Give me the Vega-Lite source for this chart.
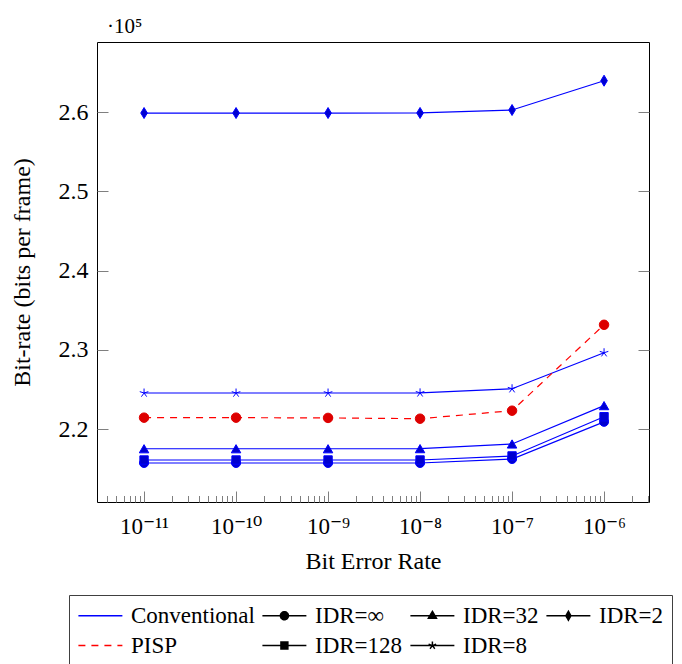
{
  "$schema": "https://vega.github.io/schema/vega-lite/v6.json",
  "width": 552,
  "height": 460,
  "autosize": {"type": "none"},
  "padding": {"left": 97, "top": 42, "right": 33, "bottom": 162},
  "background": "white",
  "config": {
    "view": {"stroke": "black", "strokeWidth": 1},
    "font": "Liberation Serif"
  },
  "title": {
    "text": "·10⁵",
    "anchor": "start",
    "frame": "group",
    "dx": 10,
    "dy": 25,
    "offset": 13,
    "baseline": "alphabetic",
    "fontSize": 21,
    "fontWeight": "normal",
    "font": "Liberation Serif",
    "color": "black"
  },
  "data": {
    "values": [
      {"ber": 1e-11, "rate": 215710, "series": "Conventional", "idr": "inf"},
      {"ber": 1e-10, "rate": 215710, "series": "Conventional", "idr": "inf"},
      {"ber": 1e-9, "rate": 215710, "series": "Conventional", "idr": "inf"},
      {"ber": 1e-8, "rate": 215710, "series": "Conventional", "idr": "inf"},
      {"ber": 1e-7, "rate": 216210, "series": "Conventional", "idr": "inf"},
      {"ber": 1e-6, "rate": 220900, "series": "Conventional", "idr": "inf"},
      {"ber": 1e-11, "rate": 216090, "series": "Conventional", "idr": "128"},
      {"ber": 1e-10, "rate": 216090, "series": "Conventional", "idr": "128"},
      {"ber": 1e-9, "rate": 216090, "series": "Conventional", "idr": "128"},
      {"ber": 1e-8, "rate": 216090, "series": "Conventional", "idr": "128"},
      {"ber": 1e-7, "rate": 216600, "series": "Conventional", "idr": "128"},
      {"ber": 1e-6, "rate": 221550, "series": "Conventional", "idr": "128"},
      {"ber": 1e-11, "rate": 217510, "series": "Conventional", "idr": "32"},
      {"ber": 1e-10, "rate": 217510, "series": "Conventional", "idr": "32"},
      {"ber": 1e-9, "rate": 217510, "series": "Conventional", "idr": "32"},
      {"ber": 1e-8, "rate": 217520, "series": "Conventional", "idr": "32"},
      {"ber": 1e-7, "rate": 218110, "series": "Conventional", "idr": "32"},
      {"ber": 1e-6, "rate": 222950, "series": "Conventional", "idr": "32"},
      {"ber": 1e-11, "rate": 224540, "series": "Conventional", "idr": "8"},
      {"ber": 1e-10, "rate": 224540, "series": "Conventional", "idr": "8"},
      {"ber": 1e-9, "rate": 224540, "series": "Conventional", "idr": "8"},
      {"ber": 1e-8, "rate": 224560, "series": "Conventional", "idr": "8"},
      {"ber": 1e-7, "rate": 225080, "series": "Conventional", "idr": "8"},
      {"ber": 1e-6, "rate": 229620, "series": "Conventional", "idr": "8"},
      {"ber": 1e-11, "rate": 259870, "series": "Conventional", "idr": "2"},
      {"ber": 1e-10, "rate": 259870, "series": "Conventional", "idr": "2"},
      {"ber": 1e-9, "rate": 259870, "series": "Conventional", "idr": "2"},
      {"ber": 1e-8, "rate": 259880, "series": "Conventional", "idr": "2"},
      {"ber": 1e-7, "rate": 260250, "series": "Conventional", "idr": "2"},
      {"ber": 1e-6, "rate": 263950, "series": "Conventional", "idr": "2"},
      {"ber": 1e-11, "rate": 221430, "series": "PISP", "idr": "PISP"},
      {"ber": 1e-10, "rate": 221430, "series": "PISP", "idr": "PISP"},
      {"ber": 1e-9, "rate": 221400, "series": "PISP", "idr": "PISP"},
      {"ber": 1e-8, "rate": 221300, "series": "PISP", "idr": "PISP"},
      {"ber": 1e-7, "rate": 222310, "series": "PISP", "idr": "PISP"},
      {"ber": 1e-6, "rate": 233150, "series": "PISP", "idr": "PISP"}
    ]
  },
  "encoding": {
    "x": {
      "field": "ber",
      "type": "quantitative",
      "scale": {"type": "log", "domain": [3.08e-12, 3.08e-6], "nice": false},
      "axis": {
        "values": [4e-12, 5e-12, 6e-12, 7e-12, 8e-12, 9e-12,
                   1e-11, 2e-11, 3e-11, 4e-11, 5e-11, 6e-11, 7e-11, 8e-11, 9e-11,
                   1e-10, 2e-10, 3e-10, 4e-10, 5e-10, 6e-10, 7e-10, 8e-10, 9e-10,
                   1e-9, 2e-9, 3e-9, 4e-9, 5e-9, 6e-9, 7e-9, 8e-9, 9e-9,
                   1e-8, 2e-8, 3e-8, 4e-8, 5e-8, 6e-8, 7e-8, 8e-8, 9e-8,
                   1e-7, 2e-7, 3e-7, 4e-7, 5e-7, 6e-7, 7e-7, 8e-7, 9e-7,
                   1e-6, 2e-6, 3e-6],
        "labelExpr": "abs(log(datum.value)/LN10 - round(log(datum.value)/LN10)) < 0.001 ? (round(log(datum.value)/LN10) == -11 ? '10⁻¹¹' : round(log(datum.value)/LN10) == -10 ? '10⁻¹⁰' : round(log(datum.value)/LN10) == -9 ? '10⁻⁹' : round(log(datum.value)/LN10) == -8 ? '10⁻⁸' : round(log(datum.value)/LN10) == -7 ? '10⁻⁷' : '10⁻⁶') : ''",
        "tickSize": {"condition": {"test": "abs(log(datum.value)/LN10 - round(log(datum.value)/LN10)) < 0.001", "value": -11}, "value": -6.5},
        "tickColor": "#7f7f7f",
        "tickWidth": 1,
        "domain": false,
        "grid": false,
        "labelFont": "Liberation Serif, DejaVu Serif",
        "labelFontSize": 23,
        "labelColor": "black",
        "labelPadding": 24,
        "labelFlush": false,
        "labelOverlap": false,
        "title": "Bit Error Rate",
        "titleFont": "Liberation Serif",
        "titleFontSize": 24,
        "titleFontWeight": "normal",
        "titleColor": "black",
        "titlePadding": 7
      }
    },
    "y": {
      "field": "rate",
      "type": "quantitative",
      "scale": {"domain": [210789, 268833], "nice": false, "zero": false},
      "axis": null
    }
  },
  "layer": [
    {
      "transform": [{"filter": "datum.series == 'Conventional'"}],
      "mark": {"type": "line", "color": "#0000ff", "strokeWidth": 1.2},
      "encoding": {
        "detail": {"field": "idr", "type": "nominal"},
        "y": {
          "field": "rate",
          "type": "quantitative",
          "scale": {"domain": [210789, 268833], "nice": false, "zero": false},
          "axis": {
            "orient": "left",
            "values": [220000, 230000, 240000, 250000, 260000],
            "labelExpr": "format(datum.value/100000, '.1f')",
            "tickSize": -11,
            "tickColor": "#7f7f7f",
            "tickWidth": 1,
            "domain": false,
            "grid": false,
            "labelFont": "Liberation Serif",
            "labelFontSize": 24,
            "labelColor": "black",
            "labelPadding": 20,
            "title": "Bit-rate (bits per frame)",
            "titleFont": "Liberation Serif",
            "titleFontSize": 24,
            "titleFontWeight": "normal",
            "titleColor": "black",
            "titlePadding": 24
          }
        }
      }
    },
    {
      "transform": [{"filter": "datum.series == 'PISP'"}],
      "mark": {"type": "line", "color": "#ff0000", "strokeWidth": 1.2, "strokeDash": [7, 6]},
      "encoding": {}
    },
    {
      "transform": [{"filter": "datum.idr == 'inf'"}],
      "mark": {"type": "point", "shape": "circle", "filled": true, "opacity": 1, "size": 81, "fill": "#0000d0", "stroke": "#0000ff", "strokeWidth": 1},
      "encoding": {}
    },
    {
      "transform": [{"filter": "datum.idr == '128'"}],
      "mark": {"type": "point", "shape": "square", "filled": true, "opacity": 1, "size": 70, "fill": "#0000d0", "stroke": "#0000ff", "strokeWidth": 1},
      "encoding": {}
    },
    {
      "transform": [{"filter": "datum.idr == '32'"}],
      "mark": {"type": "point", "shape": "triangle-up", "filled": true, "opacity": 1, "size": 90, "fill": "#0000d0", "stroke": "#0000ff", "strokeWidth": 1},
      "encoding": {}
    },
    {
      "transform": [{"filter": "datum.idr == '8'"}],
      "mark": {"type": "point", "shape": "M0,0L0,-1M0,0L0.951,-0.309M0,0L0.588,0.809M0,0L-0.588,0.809M0,0L-0.951,-0.309", "filled": true, "opacity": 1, "size": 81, "fill": "#0000ff", "stroke": "#0000ff", "strokeWidth": 1},
      "encoding": {}
    },
    {
      "transform": [{"filter": "datum.idr == '2'"}],
      "mark": {"type": "point", "shape": "M0,-1L0.6,0L0,1L-0.6,0Z", "filled": true, "opacity": 1, "size": 121, "fill": "#0000d0", "stroke": "#0000ff", "strokeWidth": 1},
      "encoding": {}
    },
    {
      "transform": [{"filter": "datum.series == 'PISP'"}],
      "mark": {"type": "point", "shape": "circle", "filled": true, "opacity": 1, "size": 90, "fill": "#dd0000", "stroke": "#e00000", "strokeWidth": 1},
      "encoding": {
        "y": {
          "field": "rate",
          "type": "quantitative",
          "scale": {"domain": [210789, 268833], "nice": false, "zero": false},
          "axis": {
            "orient": "right",
            "values": [220000, 230000, 240000, 250000, 260000],
            "tickSize": -11,
            "tickColor": "#7f7f7f",
            "tickWidth": 1,
            "domain": false,
            "grid": false,
            "labels": false,
            "title": null
          }
        }
      }
    },
    {
      "data": {"values": []},
      "mark": {"type": "point", "filled": true, "opacity": 1},
      "encoding": {
        "shape": {
          "field": "entry",
          "type": "nominal",
          "scale": {
            "domain": ["Conventional", "IDR=∞", "IDR=32", "IDR=2", "PISP", "IDR=128", "IDR=8"],
            "range": [
              "M-0.965,0H2.86",
              "M-0.965,0H2.86M1.298,0A0.35,0.35,0,1,1,0.598,0A0.35,0.35,0,1,1,1.298,0Z",
              "M-0.965,0H2.86M0.948,-0.38L1.298,0.22L0.598,0.22Z",
              "M-0.965,0H2.86M0.948,-0.39L1.168,0L0.948,0.39L0.728,0Z",
              "M-0.965,0H2.86",
              "M-0.965,0H2.86M0.648,-0.3H1.248V0.3H0.648Z",
              "M-0.965,0H2.86M0.948,0L0.948,-0.35M0.948,0L1.281,-0.108M0.948,0L1.154,0.283M0.948,0L0.742,0.283M0.948,0L0.615,-0.108"
            ]
          },
          "legend": {
            "title": null,
            "orient": "none",
            "legendX": -28,
            "legendY": 553,
            "direction": "horizontal",
            "columns": 4,
            "symbolSize": 529,
            "symbolStrokeWidth": 1.5,
            "labelFont": "Liberation Serif",
            "labelFontSize": 23,
            "labelColor": "black",
            "labelLimit": 0,
            "labelOffset": 29,
            "columnPadding": 4,
            "rowPadding": 5,
            "padding": 8,
            "strokeColor": "#404040",
            "fillColor": "white"
          }
        },
        "stroke": {
          "field": "entry",
          "type": "nominal",
          "scale": {
            "domain": ["Conventional", "IDR=∞", "IDR=32", "IDR=2", "PISP", "IDR=128", "IDR=8"],
            "range": ["#0000ff", "black", "black", "black", "#ff0000", "black", "black"]
          }
        },
        "fill": {
          "field": "entry",
          "type": "nominal",
          "scale": {
            "domain": ["Conventional", "IDR=∞", "IDR=32", "IDR=2", "PISP", "IDR=128", "IDR=8"],
            "range": ["transparent", "black", "black", "black", "transparent", "black", "black"]
          }
        },
        "strokeDash": {
          "field": "entry",
          "type": "nominal",
          "scale": {
            "domain": ["Conventional", "IDR=∞", "IDR=32", "IDR=2", "PISP", "IDR=128", "IDR=8"],
            "range": [[1, 0], [1, 0], [1, 0], [1, 0], [7, 6], [1, 0], [1, 0]]
          }
        }
      }
    }
  ],
  "resolve": {"axis": {"y": "independent"}}
}
